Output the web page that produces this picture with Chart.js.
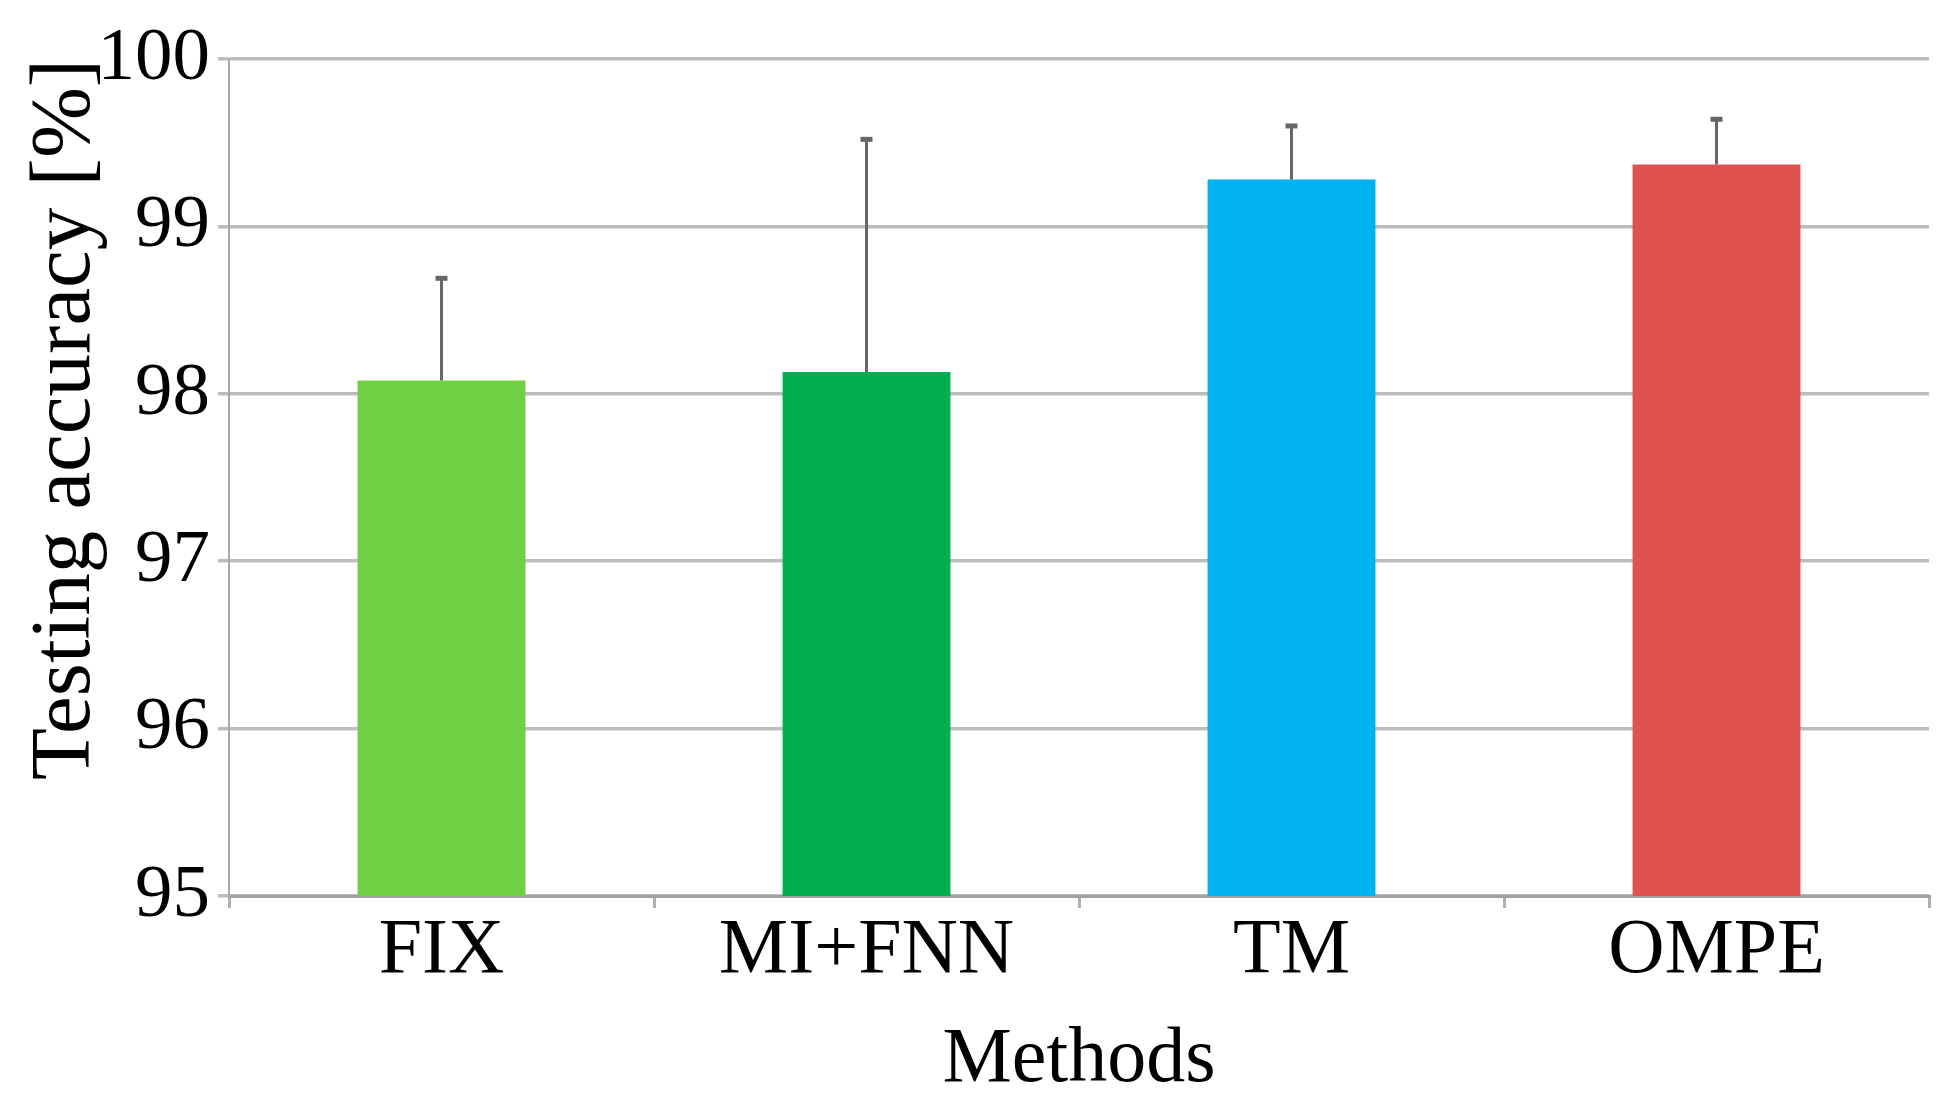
<!DOCTYPE html>
<html>
<head>
<meta charset="utf-8">
<title>Testing accuracy by method</title>
<script src="https://cdn.jsdelivr.net/npm/chart.js@4.4.1/dist/chart.umd.min.js"></script>
<style>
  html, body { margin: 0; padding: 0; background: #ffffff; }
  #wrap { width: 1960px; height: 1119px; }
</style>
</head>
<body>
<div id="wrap"><canvas id="accuracyChart" width="1960" height="1119"></canvas></div>
<script>
// values
var methods = ["FIX", "MI+FNN", "TM", "OMPE"];
var accuracy = [98.08, 98.13, 99.28, 99.37];
var errorUp = [0.61, 1.39, 0.32, 0.27];
var barColors = ["#70D044", "#00B050", "#00B2F0", "#DE5250"];
var yTicks = [95, 96, 97, 98, 99, 100];

var serif = "'Liberation Serif', 'Times New Roman', serif";

// draws the upper error whiskers on top of each bar
var errorBars = {
  id: "errorBars",
  afterDatasetsDraw: function (chart) {
    var ctx = chart.ctx;
    var meta = chart.getDatasetMeta(0);
    var yScale = chart.scales.y;
    ctx.save();
    ctx.strokeStyle = "#666666";
    meta.data.forEach(function (bar, i) {
      var top = yScale.getPixelForValue(accuracy[i] + errorUp[i]);
      ctx.lineWidth = 3;
      ctx.beginPath();
      ctx.moveTo(bar.x, bar.y);
      ctx.lineTo(bar.x, top);
      ctx.stroke();
      ctx.lineWidth = 5;
      ctx.beginPath();
      ctx.moveTo(bar.x - 6, top);
      ctx.lineTo(bar.x + 6, top);
      ctx.stroke();
    });
    ctx.restore();
  }
};

var chart = new Chart(document.getElementById("accuracyChart"), {
  type: "bar",
  data: {
    labels: methods,
    datasets: [{
      data: accuracy,
      backgroundColor: barColors,
      borderWidth: 0,
      categoryPercentage: 1.0,
      barPercentage: 0.395
    }]
  },
  options: {
    responsive: false,
    animation: false,
    layout: { padding: { top: 59, right: 31, bottom: 0, left: 0 } },
    plugins: {
      legend: { display: false },
      tooltip: { enabled: false }
    },
    scales: {
      x: {
        afterFit: function (scale) { scale.height = 223; },
        grid: {
          offset: true,
          drawOnChartArea: false,
          drawTicks: true,
          tickLength: 12,
          color: "#b0b0b0",
          lineWidth: 3
        },
        border: { display: true, color: "#a0a0a0", width: 3 },
        ticks: {
          color: "#000000",
          padding: -3,
          font: { family: serif, size: 78 }
        },
        title: {
          display: true,
          text: "Methods",
          color: "#000000",
          padding: { top: 0, bottom: 12 },
          font: { family: serif, size: 78 }
        }
      },
      y: {
        min: yTicks[0],
        max: yTicks[yTicks.length - 1],
        afterFit: function (scale) { scale.width = 229; },
        afterBuildTicks: function (scale) {
          scale.ticks = yTicks.map(function (v) { return { value: v }; });
        },
        grid: {
          color: "#bdbdbd",
          lineWidth: 3.5,
          drawTicks: true,
          tickLength: 11
        },
        border: { display: true, color: "#a8a8a8", width: 2 },
        ticks: {
          color: "#000000",
          padding: 8,
          font: { family: serif, size: 75 }
        },
        title: {
          display: true,
          text: "Testing accuracy [%]",
          align: "end",
          color: "#000000",
          padding: { top: 16, bottom: 0 },
          font: { family: serif, size: 85 }
        }
      }
    }
  },
  plugins: [errorBars]
});
</script>
</body>
</html>
